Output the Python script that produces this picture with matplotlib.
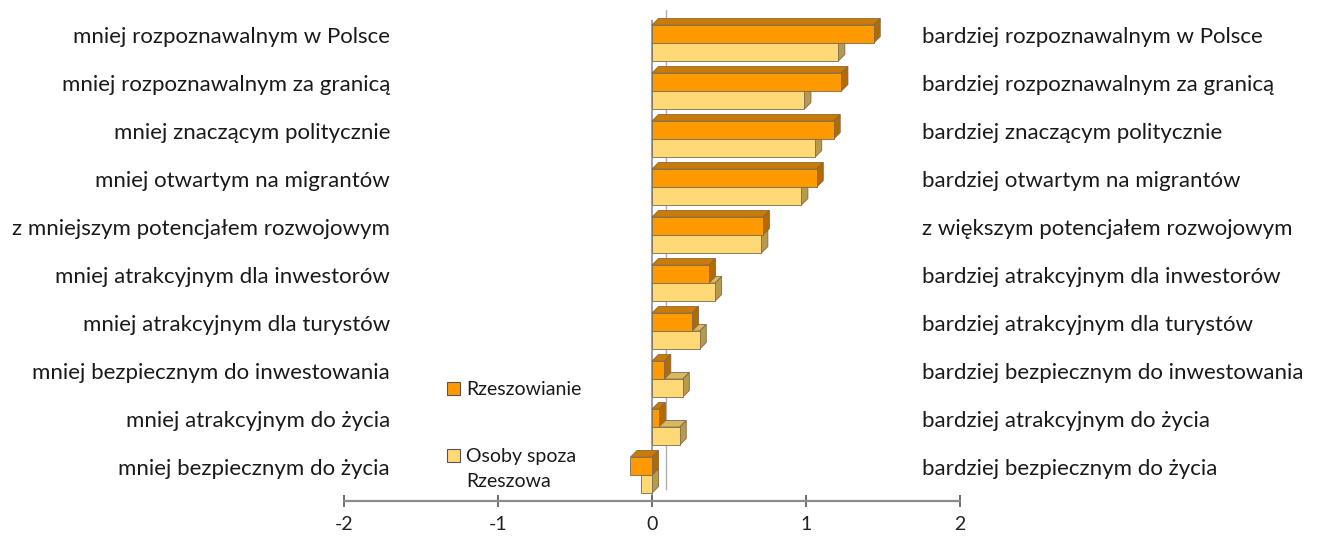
import numpy as np
import matplotlib
matplotlib.use('Agg')
import matplotlib.pyplot as plt
from matplotlib.patches import Polygon, Rectangle
from matplotlib import transforms

plt.rcParams['font.family'] = ['Lato', 'DejaVu Sans']

leftLabels = ['mniej rozpoznawalnym w Polsce', 'mniej rozpoznawalnym za granicą',
              'mniej znaczącym politycznie', 'mniej otwartym na migrantów',
              'z mniejszym potencjałem rozwojowym', 'mniej atrakcyjnym dla inwestorów',
              'mniej atrakcyjnym dla turystów', 'mniej bezpiecznym do inwestowania',
              'mniej atrakcyjnym do życia', 'mniej bezpiecznym do życia']
rightLabels = ['bardziej rozpoznawalnym w Polsce', 'bardziej rozpoznawalnym za granicą',
               'bardziej znaczącym politycznie', 'bardziej otwartym na migrantów',
               'z większym potencjałem rozwojowym', 'bardziej atrakcyjnym dla inwestorów',
               'bardziej atrakcyjnym dla turystów', 'bardziej bezpiecznym do inwestowania',
               'bardziej atrakcyjnym do życia', 'bardziej bezpiecznym do życia']
seriesNames = ['Rzeszowianie', 'Osoby spoza\nRzeszowa']
rzeszowianie = [1.44, 1.23, 1.18, 1.07, 0.72, 0.37, 0.26, 0.08, 0.045, -0.14]
spoza = [1.21, 0.99, 1.06, 0.97, 0.71, 0.41, 0.31, 0.20, 0.18, -0.07]
xTicks = [-2, -1, 0, 1, 2]

# kolory: przod, gora, bok
orangeCols = ('#FF9900', '#CC7A00', '#B36A00')
yellowCols = ('#FFD975', '#D9B85E', '#B89A4C')
edgeCol = '#7a6a50'

fig = plt.figure(figsize=(13.2, 5.36), dpi=100)
ax = fig.add_axes([344/1320, 35/536, 616/1320, 491/536])
ax.set_xlim(-2, 2)
ax.set_ylim(9.54, -0.6875)

yPos = np.arange(len(leftLabels))
h = 0.375

# glebokosc 3D w pikselach -> jednostki danych
depthPx = 6.5
dx = depthPx / 154.0
dy = depthPx / 48.0

def back3d(x0, x1, ytop, ybot, cols, z):
    lo, hi = min(x0, x1), max(x0, x1)
    top = Polygon([(lo, ytop), (hi, ytop), (hi + dx, ytop - dy), (lo + dx, ytop - dy)],
                  closed=True, fc=cols[1], ec=edgeCol, lw=0.6, zorder=z)
    side = Polygon([(hi, ytop), (hi, ybot), (hi + dx, ybot - dy), (hi + dx, ytop - dy)],
                   closed=True, fc=cols[2], ec=edgeCol, lw=0.6, zorder=z)
    ax.add_patch(top)
    ax.add_patch(side)

# sciany wykresu (linie zera)
ax.plot([0, 0], [-0.45, 9.54], color='#a0a0a0', lw=1.5, zorder=1)
ax.plot([14/154, 14/154], [-0.6875, 9.3], color='#b0b0b0', lw=1.0, zorder=0.5)

for i in range(len(yPos)):
    yo = yPos[i] - h / 2
    yy = yPos[i] + h / 2
    back3d(0, spoza[i], yy - h / 2, yy + h / 2, yellowCols, 2)
    back3d(0, rzeszowianie[i], yo - h / 2, yo + h / 2, orangeCols, 3)

barsO = ax.barh(yPos - h / 2, rzeszowianie, height=h, color=orangeCols[0],
                edgecolor=edgeCol, linewidth=0.6, zorder=4)
barsY = ax.barh(yPos + h / 2, spoza, height=h, color=yellowCols[0],
                edgecolor=edgeCol, linewidth=0.6, zorder=4)

for s in ['top', 'left', 'right']:
    ax.spines[s].set_visible(False)
ax.spines['bottom'].set_color('#8c8c8c')
ax.spines['bottom'].set_linewidth(1.6)
ax.set_xticks(xTicks)
ax.set_xticklabels([str(t) for t in xTicks])
ax.tick_params(axis='x', direction='inout', length=9, width=1.4, color='#6e6e6e',
               labelsize=14, labelcolor='#222222', pad=6)
ax.set_yticks([])
ax.patch.set_alpha(0)

# etykiety kategorii po obu stronach
trans = transforms.blended_transform_factory(fig.transFigure, ax.transData)
trans = transforms.offset_copy(trans, fig=fig, x=0, y=6, units='dots')
for i in range(len(yPos)):
    fig.text(390/1320, yPos[i], leftLabels[i], transform=trans, ha='right', va='center',
             fontsize=16, color='#1a1a1a')
    fig.text(922/1320, yPos[i], rightLabels[i], transform=trans, ha='left', va='center',
             fontsize=16, color='#1a1a1a')

# legenda
legY = [389, 456]
for col, name, yl in zip([orangeCols[0], yellowCols[0]], seriesNames, legY):
    fig.patches.append(Rectangle((447/1320, 1 - (yl + 6)/536), 13/1320, 13/536,
                                 transform=fig.transFigure, fc=col, ec='#555555', lw=0.8))
    fig.text(466/1320, 1 - (yl - 8)/536, name, ha='left', va='top', fontsize=14,
             color='#1a1a1a', linespacing=1.6)

fig.savefig('out.png', dpi=100)
